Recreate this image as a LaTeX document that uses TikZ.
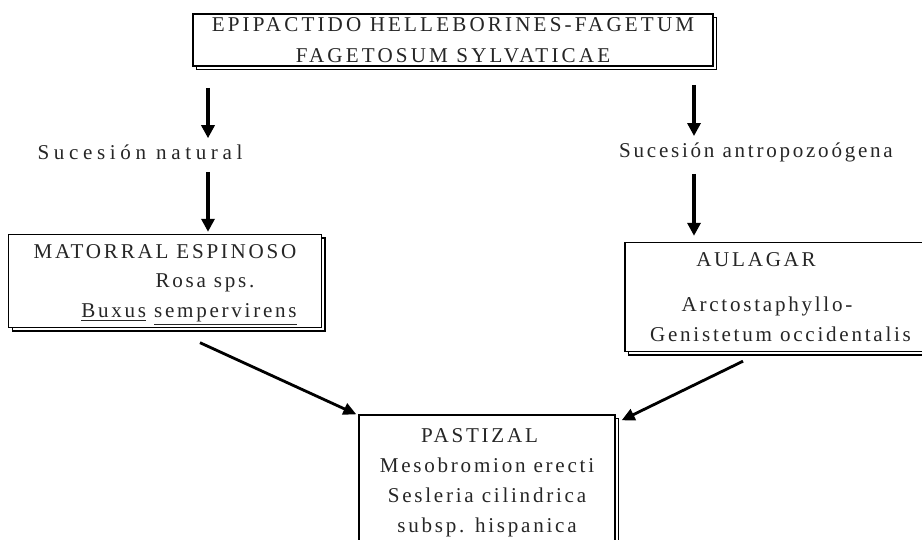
\documentclass[tikz,border=0pt]{standalone}
\usepackage{fontspec}
\setmainfont{Liberation Serif}[LetterSpace=13]
\usetikzlibrary{positioning,arrows.meta,shadows}
\tikzset{
 caja/.style={rectangle,draw,line width=0.8pt,fill=white,align=center,inner sep=0pt,
   text=black!85,font=\fontsize{12}{17}\selectfont,
   drop shadow={shadow xshift=0.07cm,shadow yshift=-0.07cm,fill=none,draw=black,opacity=1,line width=0.6pt}},
 rotulo/.style={inner sep=0pt,text=black!85,font=\fontsize{12}{13}\selectfont},
 flecha/.style={-{Triangle[width=0.26cm,length=0.26cm]},line width=1.9pt},
 oblicua/.style={-{Triangle[width=0.24cm,length=0.26cm]},line width=1.6pt}
}
\begin{document}
\begin{tikzpicture}[x=0.02cm,y=-0.02cm]
\useasboundingbox (0,0) rectangle (922,540);
\node[caja,minimum width=10.4cm,minimum height=1.04cm,font=\fontsize{12}{18}\selectfont\addfontfeatures{LetterSpace=15}] (sintaxon) at (453,40) {EPIPACTIDO HELLEBORINES-FAGETUM\\FAGETOSUM SYLVATICAE};
\node[rotulo,font=\fontsize{12}{13}\selectfont\addfontfeatures{LetterSpace=22}] (natural) at (140,152) {Sucesión natural};
\node[rotulo] (antropico) at (756,152) {Sucesión antropozoógena};
\node[caja,minimum width=6.26cm,minimum height=1.86cm,text depth=0pt] (matorral) at (165,281) {MATORRAL ESPINOSO\\\hspace*{1.6cm}Rosa sps.\\\hspace*{0.96cm}\underline{Buxus} \underline{sempervirens}};
\node[caja,minimum width=6.2cm,minimum height=2.18cm] (aulagar) at (780,297) {\hspace*{-0.96cm}AULAGAR\\[0.3cm]\hspace*{-0.52cm}Arctostaphyllo-\\\hspace*{0.02cm}Genistetum occidentalis};
\node[caja,minimum width=5.12cm,minimum height=2.72cm,font=\fontsize{12}{17}\selectfont] (pastizal) at (487,483) {\hspace*{-0.3cm}PASTIZAL\\Mesobromion erecti\\Sesleria cilindrica\\subsp. hispanica};
\coordinate (izq) at (208,88);
\coordinate (der) at (694,85);
\draw[flecha,shorten >=0.12cm] (izq) -- (izq |- natural.north);
\draw[flecha,shorten <=0.24cm,shorten >=0.04cm] (izq |- natural.south) -- (izq |- matorral.north);
\draw[flecha,shorten >=0.12cm] (der) -- (der |- antropico.north);
\draw[flecha,shorten <=0.24cm,shorten >=0.12cm] (der |- antropico.south) -- (der |- aulagar.north);
\draw[oblicua] ([xshift=0.7cm,yshift=-0.29cm]matorral.south) -- ([xshift=-0.04cm]pastizal.north west);
\draw[oblicua] ([xshift=-0.74cm,yshift=-0.18cm]aulagar.south) -- ([xshift=0.12cm,yshift=-0.12cm]pastizal.north east);
\end{tikzpicture}
\end{document}
